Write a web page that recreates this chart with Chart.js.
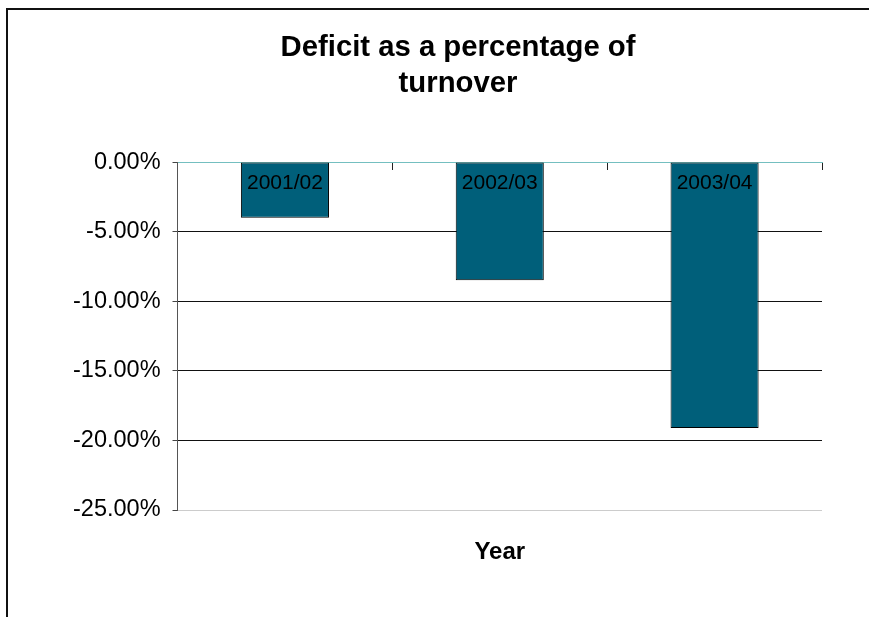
<!DOCTYPE html>
<html lang="en">
<head>
    <meta charset="UTF-8">
    <title>Deficit as a percentage of turnover</title>
    <script src="https://cdn.jsdelivr.net/npm/chart.js"></script>
    <style>
        body { margin: 0; background: #fff; overflow: hidden; }
        #frame { position: absolute; left: 6px; top: 8px; width: 863px; height: 609px; box-sizing: border-box;
                 border-top: 2px solid #111; border-left: 2px solid #111; }
        #wrap { position: absolute; left: 0; top: 0; width: 869px; height: 617px; }
    </style>
</head>
<body>
    <div id="frame"></div>
    <div id="wrap"><canvas id="deficitChart" width="869" height="617"></canvas></div>

    <script>
        // data (percent of turnover)
        const years = ['2001/02', '2002/03', '2003/04'];
        const deficitPct = [-4.0, -8.5, -19.1];
        const yTicks = [0, -5, -10, -15, -20, -25];

        const FONT = "'Liberation Sans', Arial, Helvetica, sans-serif";
        const ZERO_LINE = '#74bfc0';

        // the title in the original sits a little right of the canvas centre
        const nudgeTitle = {
            id: 'nudgeTitle',
            afterLayout(chart) {
                if (chart.titleBlock) chart.titleBlock.left += 33;
            }
        };

        new Chart(document.getElementById('deficitChart').getContext('2d'), {
            type: 'bar',
            data: {
                labels: years,
                datasets: [{
                    label: 'Deficit',
                    data: deficitPct,
                    backgroundColor: '#005f7a',
                    borderColor: '#000',
                    borderWidth: 1,
                    borderSkipped: false,
                    barPercentage: 0.41,
                    categoryPercentage: 1
                }]
            },
            plugins: [nudgeTitle],
            options: {
                responsive: false,
                animation: false,
                devicePixelRatio: 1,
                layout: { padding: { left: 61, right: 47, top: 0, bottom: 53 } },
                plugins: {
                    legend: { display: false },
                    tooltip: { enabled: false },
                    title: {
                        display: true,
                        text: ['Deficit as a percentage of', 'turnover'],
                        color: '#000',
                        font: { family: FONT, size: 29.3, weight: 'bold', lineHeight: 1.23 },
                        padding: { top: 30, bottom: 60 }
                    }
                },
                scales: {
                    x: {
                        type: 'category',
                        position: { y: 0 },
                        offset: true,
                        grid: { drawOnChartArea: false, drawTicks: true, tickLength: 7, tickColor: '#222', offset: true },
                        border: { display: true, color: ZERO_LINE, width: 1 },
                        ticks: {
                            color: '#000',
                            padding: 2,
                            maxRotation: 0,
                            autoSkip: false,
                            z: 1,
                            font: { family: FONT, size: 21, lineHeight: 1.2 }
                        }
                    },
                    x2: {
                        type: 'category',
                        position: 'bottom',
                        grid: { display: false },
                        border: { display: false },
                        ticks: { display: false },
                        title: {
                            display: true,
                            text: 'Year',
                            color: '#000',
                            font: { family: FONT, size: 24, weight: 'bold', lineHeight: 1 },
                            padding: { top: 22, bottom: 0 }
                        }
                    },
                    y: {
                        position: 'left',
                        min: yTicks[yTicks.length - 1],
                        max: yTicks[0],
                        afterBuildTicks: s => { s.ticks = yTicks.map(v => ({ value: v })); },
                        grid: {
                            color: ctx => {
                                const v = ctx.tick ? ctx.tick.value : null;
                                if (v === 0) return ZERO_LINE;
                                if (v === -25) return '#cccccc';
                                return '#111';
                            },
                            lineWidth: 1,
                            drawTicks: true,
                            tickLength: 5,
                            tickColor: '#444'
                        },
                        border: { display: true, color: '#555', width: 1 },
                        ticks: {
                            color: '#000',
                            padding: 12,
                            font: { family: FONT, size: 23.5 },
                            callback: v => Number(v).toFixed(2) + '%'
                        }
                    }
                }
            }
        });
    </script>
</body>
</html>
